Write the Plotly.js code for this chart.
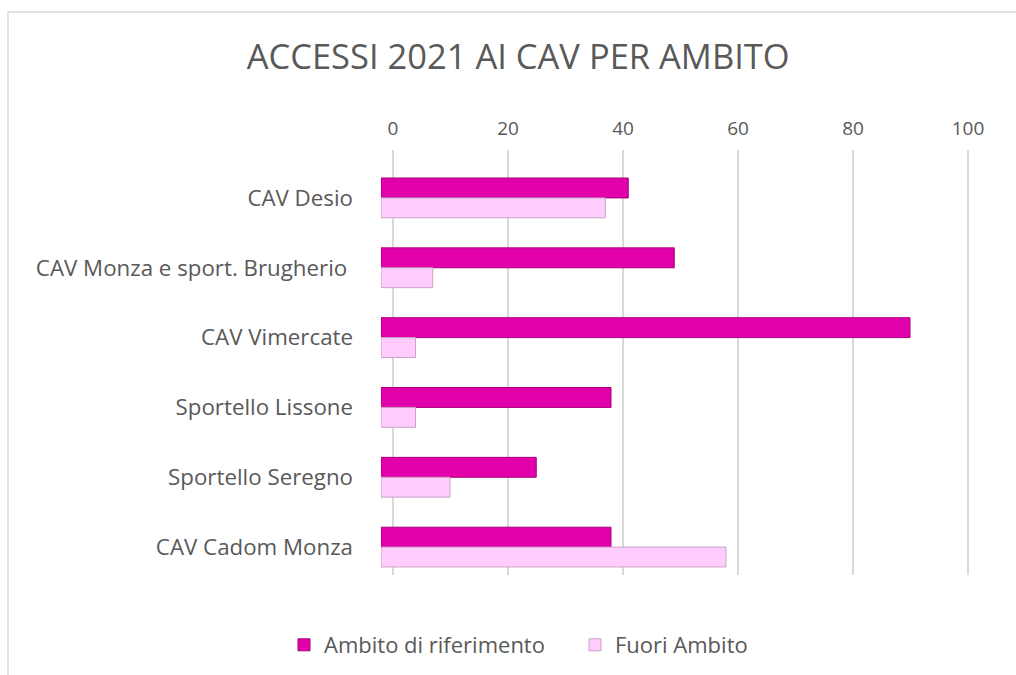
<!DOCTYPE html>
<html>
<head>
<meta charset="utf-8">
<script src="https://cdn.plot.ly/plotly-3.0.1.min.js"></script>
<style>html,body{margin:0;padding:0;background:#fff;}#chart{width:1016px;height:675px;}</style>
</head>
<body>
<div id="chart"></div>
<script>
const categories = [
  "CAV Desio",
  "CAV Monza e sport. Brugherio ",
  "CAV Vimercate",
  "Sportello Lissone",
  "Sportello Seregno",
  "CAV Cadom Monza"
];
const ambitoRiferimento = [43, 51, 92, 40, 27, 40];
const fuoriAmbito = [39, 9, 6, 6, 12, 60];
const tickValues = [0, 20, 40, 60, 80, 100];
const seriesNames = ["Ambito di riferimento", "Fuori Ambito"];

const W = 1016, H = 675;
const px = v => v / W;
const py = v => 1 - v / H;
const font = "Open Sans, Noto Sans, sans-serif";

const traces = [
  {
    type: "bar", orientation: "h", name: seriesNames[0],
    y: categories, x: ambitoRiferimento,
    xaxis: "x2", yaxis: "y2",
    marker: {color: "#e100a9", line: {color: "#a8007c", width: 1}},
    hoverinfo: "x+name"
  },
  {
    type: "bar", orientation: "h", name: seriesNames[1],
    y: categories, x: fuoriAmbito,
    xaxis: "x2", yaxis: "y2",
    marker: {color: "#ffccfd", line: {color: "#c9a3c4", width: 1}},
    hoverinfo: "x+name"
  },
  {
    // empty helper trace so the gridline (back wall) axis is drawn
    type: "scatter", mode: "markers", x: [], y: [],
    xaxis: "x", yaxis: "y", showlegend: false, hoverinfo: "skip"
  }
];

const layout = {
  width: W, height: H,
  margin: {l: 0, r: 0, t: 0, b: 0},
  paper_bgcolor: "#ffffff", plot_bgcolor: "rgba(0,0,0,0)",
  title: {
    text: "ACCESSI 2021 AI CAV PER AMBITO",
    font: {family: font, size: 34.5, color: "#595959"},
    x: 0.51, xanchor: "center", y: py(57), yanchor: "middle"
  },
  barmode: "group", bargap: 0.43, bargroupgap: 0,
  xaxis: {
    domain: [px(387.25), px(973.75)], range: [-1, 101], anchor: "y", side: "top",
    tickvals: tickValues, ticktext: tickValues.map(String),
    showgrid: true, gridcolor: "#d9d9d9", gridwidth: 2,
    zeroline: false, showline: false, ticks: "",
    ticklabelstandoff: 10, fixedrange: true,
    tickfont: {family: font, size: 19, color: "#595959"}
  },
  yaxis: {
    domain: [py(575), py(150)], range: [0, 1], anchor: "x",
    showgrid: false, zeroline: false, showline: false,
    showticklabels: false, ticks: "", fixedrange: true
  },
  xaxis2: {
    domain: [px(381), px(956)], range: [0, 100], anchor: "y2",
    visible: false, showgrid: false, zeroline: false
  },
  yaxis2: {
    domain: [py(582), py(163)], anchor: "x2",
    type: "category", autorange: "reversed",
    showgrid: false, zeroline: false, showline: false, ticks: "",
    ticklabelstandoff: 27,
    tickfont: {family: font, size: 22.3, color: "#595959"}
  },
  legend: {
    orientation: "h", x: px(284), xanchor: "left", y: py(645), yanchor: "middle",
    font: {family: font, size: 22, color: "#595959"},
    traceorder: "normal", entrywidth: 246, entrywidthmode: "pixels"
  },
  shapes: [
    {type: "rect", xref: "paper", yref: "paper",
     x0: px(8), x1: px(1030), y0: py(690), y1: py(12),
     line: {color: "#d9d9d9", width: 1.5}, fillcolor: "rgba(0,0,0,0)", layer: "below"}
  ],
  showlegend: true
};

Plotly.newPlot("chart", traces, layout, {displayModeBar: false, staticPlot: true});
</script>
</body>
</html>
